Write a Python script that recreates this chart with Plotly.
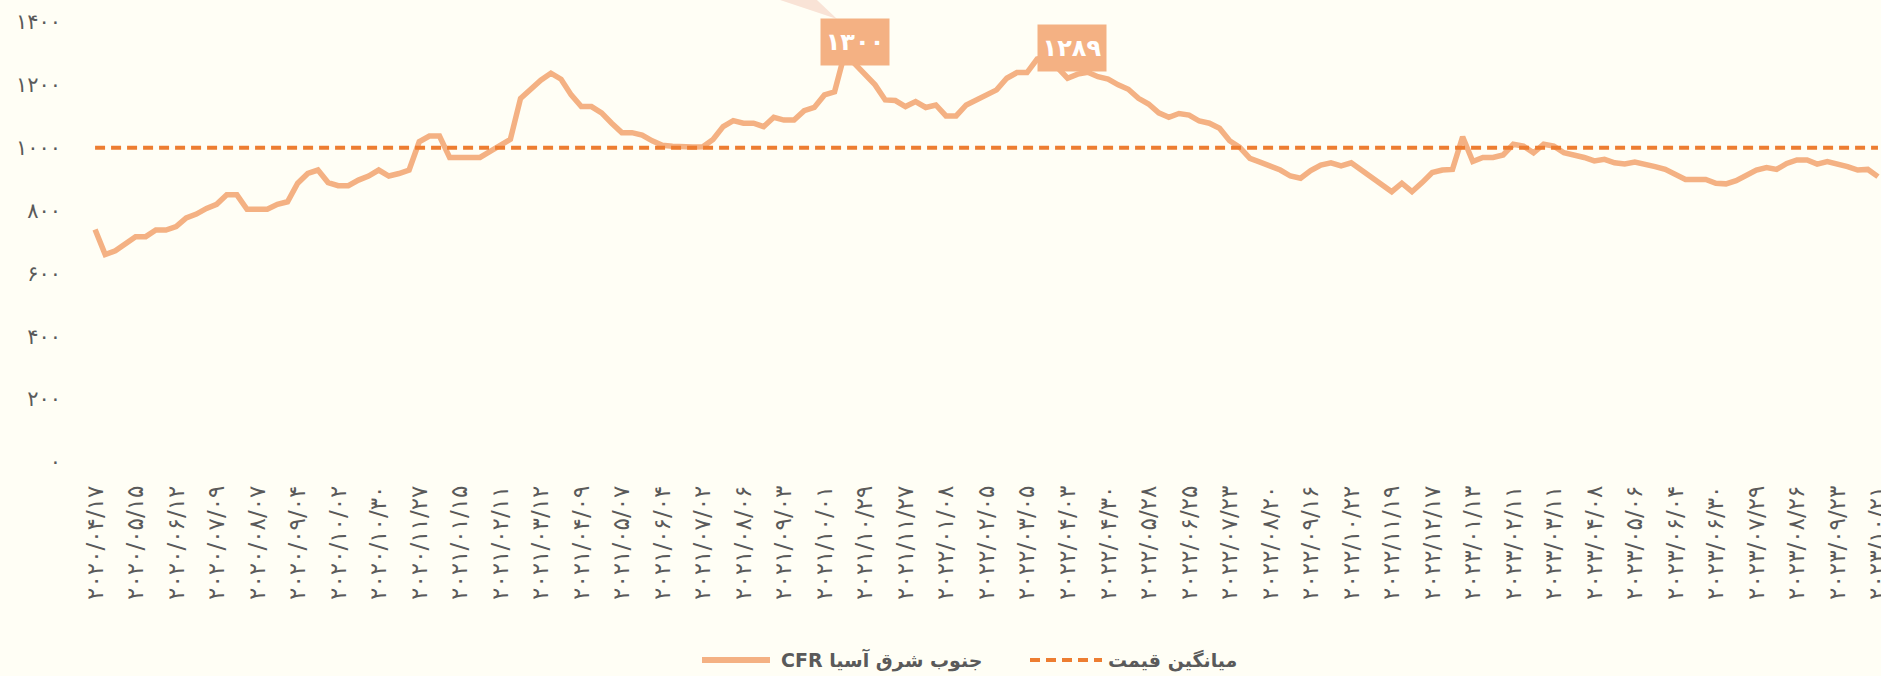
import plotly.graph_objects as go

# ---------------- data ----------------
series_name = "CFR جنوب شرق آسیا"
avg_name = "میانگین قیمت"

prices = [
    740, 660, 672, 694, 717, 717, 738, 738, 749, 777, 789, 807, 820, 850, 850, 804,
    804, 804, 820, 828, 887, 918, 929, 889, 879, 879, 897, 910, 929, 910, 918, 929,
    1019, 1037, 1037, 969, 969, 969, 969, 988, 1008, 1027, 1157, 1189,
    1215, 1237, 1218, 1168, 1131, 1131, 1111, 1078, 1048, 1048, 1040, 1022, 1008, 1005,
    1002, 1002, 1003, 1026, 1067, 1086, 1078, 1078, 1067, 1097, 1088, 1088, 1118, 1128,
    1168, 1178, 1300, 1268, 1237, 1200, 1152, 1150, 1131, 1147, 1128, 1136, 1101, 1101,
    1136, 1152,
    1168, 1184, 1221, 1239, 1239, 1282, 1289, 1255, 1221, 1234, 1240, 1226, 1218, 1200,
    1186, 1157, 1139, 1111, 1097, 1109, 1104, 1085, 1078, 1062, 1022, 1001, 966, 954,
    942, 929, 910, 903, 927, 945, 952, 942, 952, 929, 903, 885, 860, 887, 860, 889,
    921, 929, 931, 1035, 956, 969, 969, 977, 1011, 1005, 984, 1011, 1005, 984, 977, 969,
    958, 963, 952, 948, 954, 948, 940, 931, 916, 899, 899, 899, 887, 885, 895, 914,
    929, 937, 931, 950, 961, 961, 948, 956, 950, 940, 929, 931, 908,
]
avg_price = 1000

tick_dates = [
    "2020/04/17", "2020/05/15", "2020/06/12", "2020/07/09", "2020/08/07", "2020/09/04",
    "2020/10/02", "2020/10/30", "2020/11/27", "2021/01/15", "2021/02/11", "2021/03/12",
    "2021/04/09", "2021/05/07", "2021/06/04", "2021/07/02", "2021/08/06", "2021/09/03",
    "2021/10/01", "2021/10/29", "2021/11/27", "2022/01/08", "2022/02/05", "2022/03/05",
    "2022/04/03", "2022/04/30", "2022/05/28", "2022/06/25", "2022/07/23", "2022/08/20",
    "2022/09/16", "2022/10/22", "2022/11/19", "2022/12/17", "2023/01/13", "2023/02/11",
    "2023/03/11", "2023/04/08", "2023/05/06", "2023/06/04", "2023/06/30", "2023/07/29",
    "2023/08/26", "2023/09/23", "2023/10/21",
]
tick_step = 4
y_ticks = [0, 200, 400, 600, 800, 1000, 1200, 1400]

# ---------------- helpers ----------------
FA = str.maketrans("0123456789", "۰۱۲۳۴۵۶۷۸۹")
def fa(s):
    return str(s).translate(FA)

x_idx = list(range(len(prices)))
tick_idx = [i * tick_step for i in range(len(tick_dates))]

BG = "#FFFEF5"
LINE = "#F4B183"
AVG = "#ED7D31"
TXT = "#5A5A5A"
FONT = "DejaVu Sans"

W, H = 1881, 676
ML, MR, MT, MB = 90, 0, 22, 214
def px2paper_x(px):
    return (px - ML) / (W - ML - MR)
def px2paper_y(py):
    return (H - MB - py) / (H - MT - MB)

fig = go.Figure()
fig.add_trace(go.Scatter(
    x=x_idx, y=prices, mode="lines", name=series_name,
    line=dict(color=LINE, width=5.5), hoverinfo="skip", showlegend=False,
))
fig.add_trace(go.Scatter(
    x=x_idx, y=[avg_price] * len(x_idx), mode="lines", name=avg_name,
    line=dict(color=AVG, width=4, dash="10px,6px"), hoverinfo="skip", showlegend=False,
))

# peak labels
i_max1 = max(range(0, 90), key=lambda i: prices[i])
i_max2 = max(range(90, 120), key=lambda i: prices[i])
for idx, xs, ys in [(i_max1, 10, 11), (i_max2, 25, 9)]:
    fig.add_annotation(
        x=idx, y=prices[idx], text="<b>" + fa(prices[idx]) + "</b>",
        showarrow=False, xshift=xs, yshift=ys, width=68, height=46,
        bgcolor=LINE, borderpad=0,
        font=dict(family=FONT, size=24, color="white"),
    )

# faint callout wedge at the top
fig.add_shape(
    type="path", xref="paper", yref="paper",
    path="M %.4f %.4f L %.4f %.4f L %.4f %.4f Z" % (
        px2paper_x(780), px2paper_y(0), px2paper_x(817), px2paper_y(0),
        px2paper_x(837), px2paper_y(19)),
    fillcolor="#F9E3D6", line=dict(width=0), layer="below",
)

# custom legend (long symbols, as in the original)
leg_y = px2paper_y(660)
legend_items = [
    (series_name, dict(color=LINE, width=6), 702, 770, 779),
    (avg_name, dict(color=AVG, width=4, dash="10px,6px"), 1030, 1102, 1106),
]
for name, ln, s0, s1, t0 in legend_items:
    fig.add_shape(type="line", xref="paper", yref="paper",
                  x0=px2paper_x(s0), x1=px2paper_x(s1), y0=leg_y, y1=leg_y, line=ln)
    fig.add_annotation(xref="paper", yref="paper", x=px2paper_x(t0), y=leg_y,
                       xanchor="left", yanchor="middle", showarrow=False,
                       text="<b>" + name + "</b>",
                       font=dict(family=FONT, size=19, color=TXT))

fig.update_layout(
    width=W, height=H,
    margin=dict(l=ML, r=MR, t=MT, b=MB, autoexpand=False),
    paper_bgcolor=BG, plot_bgcolor=BG,
    font=dict(family=FONT, color=TXT),
    showlegend=False,
    xaxis=dict(
        range=[-0.5, 176.3], showgrid=False, zeroline=False, showline=False,
        tickmode="array", tickvals=tick_idx, ticktext=[fa(d) for d in tick_dates],
        tickangle=-90, ticks="", ticklabelstandoff=18, ticklabeloverflow="allow",
        automargin=False,
        tickfont=dict(family=FONT, size=23, color=TXT),
    ),
    yaxis=dict(
        range=[0, 1400], showgrid=False, zeroline=False, showline=False,
        tickmode="array", tickvals=y_ticks, ticktext=[fa(v) for v in y_ticks],
        ticks="", ticklabelstandoff=28, automargin=False,
        tickfont=dict(family=FONT, size=21, color=TXT),
    ),
)

fig.write_html(
    "out.html",
    config={"displayModeBar": False},
    post_script="document.body.style.margin='0';document.body.style.background='%s';"
                "document.documentElement.style.overflow='hidden';" % BG,
)
